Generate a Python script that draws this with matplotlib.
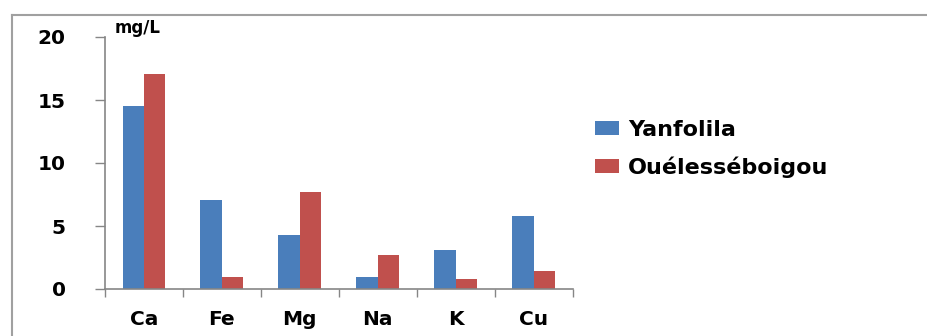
import matplotlib
matplotlib.use("Agg")
import matplotlib.pyplot as plt
from matplotlib.lines import Line2D
import numpy as np

categories = ["Ca", "Fe", "Mg", "Na", "K", "Cu"]
yanfolila = [14.5, 7.1, 4.3, 0.95, 3.1, 5.8]
ouelessebougou = [17.1, 0.95, 7.7, 2.7, 0.8, 1.4]
series_names = ["Yanfolila", "Ouélesséboigou"]
yticks = [0, 5, 10, 15, 20]
unit_label = "mg/L"

blue = "#4A7EBB"
red = "#C0504D"
axis_gray = "#868686"

plt.rcParams['font.family'] = ['DejaVu Sans']

fig = plt.figure(figsize=(9.28, 3.36), dpi=100)
ax = fig.add_axes([105/928, 1-289/336, (572.7-105)/928, (289-37)/336])

x = np.arange(len(categories))
w = 0.275
ax.bar(x - w/2, yanfolila, w, color=blue, label=series_names[0])
ax.bar(x + w/2, ouelessebougou, w, color=red, label=series_names[1])

ax.set_xlim(-0.5, len(categories) - 0.5)
ax.set_ylim(0, 20)
ax.set_yticks(yticks)
ax.set_yticklabels([str(v) for v in yticks], fontsize=14.5, fontweight='heavy')
ax.tick_params(axis='y', length=7.2, width=1, color=axis_gray, pad=21, direction='out')

ax.set_xticks(np.arange(len(categories) + 1) - 0.5)
ax.set_xticklabels([])
ax.set_xticks(x, minor=True)
ax.set_xticklabels(categories, minor=True, fontsize=14.5, fontweight='heavy')
ax.tick_params(axis='x', which='major', length=6, width=1, color=axis_gray, direction='out')
ax.tick_params(axis='x', which='minor', length=0, pad=15)

for s in ['top', 'right']:
    ax.spines[s].set_visible(False)
for s in ['left', 'bottom']:
    ax.spines[s].set_color(axis_gray)
    ax.spines[s].set_linewidth(1.2)

fig.text(115/928, 1-28/336, unit_label, fontsize=12, fontweight='heavy', va='center', ha='left')

leg = ax.legend(loc='upper left', bbox_to_anchor=(595/928, 1-120/336),
                bbox_transform=fig.transFigure, frameon=False,
                prop={'size': 16, 'weight': 'heavy'},
                handlelength=1.08, handleheight=0.59, handletextpad=0.4,
                labelspacing=0.72, borderpad=0, borderaxespad=0)

# outer chart-area border (left and top edges visible)
fig.add_artist(Line2D([12/928, 12/928], [0, 1-15/336], transform=fig.transFigure,
                      color="#A0A0A0", linewidth=1.5))
fig.add_artist(Line2D([12/928, 1], [1-15/336, 1-15/336], transform=fig.transFigure,
                      color="#A0A0A0", linewidth=1.5))

fig.savefig("out.png", dpi=100)
